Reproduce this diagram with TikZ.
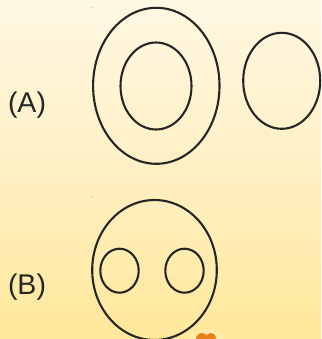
\documentclass[tikz,border=0pt]{standalone}
\usepackage{fontspec}
\setmainfont{Liberation Sans}
\definecolor{bgtop}{RGB}{255,247,226}
\definecolor{bgmid}{RGB}{255,240,196}
\definecolor{bgbot}{RGB}{255,232,154}
\definecolor{glow}{RGB}{255,243,190}
\definecolor{blob}{RGB}{232,128,26}
\begin{document}
\begin{tikzpicture}[x=1pt,y=-1pt,
  ring/.style={draw=black!85,line width=2.1pt},
  lbl/.style={font=\fontsize{28.5}{31}\selectfont,text=black!85,inner sep=0pt}]
\useasboundingbox (0,0) rectangle (321,339);
\shade[top color=bgtop,bottom color=bgbot,middle color=bgmid] (0,0) rectangle (321,339);
% orange blob
\begin{scope}
\clip (0,0) rectangle (321,339);
\fill[glow,opacity=0.5] (207,338) ellipse [x radius=18, y radius=8];
\fill[blob] (202,339) circle (6);
\fill[blob] (211,338) circle (5);
\end{scope}
% (A)
\node[lbl] (la) at (27,105) {(A)};
\draw[ring] (156.3,85.8) ellipse [x radius=63.2, y radius=78];
\draw[ring] (156,86) ellipse [x radius=35.5, y radius=43.5];
\draw[ring] (281.7,80.8) ellipse [x radius=38.5, y radius=48];
% (B)
\node[lbl] (lb) at (27,287) {(B)};
\draw[ring] (154.5,270) ellipse [x radius=62.3, y radius=70];
\draw[ring] (119.5,270.7) ellipse [x radius=19.2, y radius=22];
\draw[ring] (184.5,270.7) ellipse [x radius=19.2, y radius=22];
% specks
\fill[black!60] (92,8) circle (0.5);
\fill[black!60] (92,197) circle (0.5);
\end{tikzpicture}
\end{document}
